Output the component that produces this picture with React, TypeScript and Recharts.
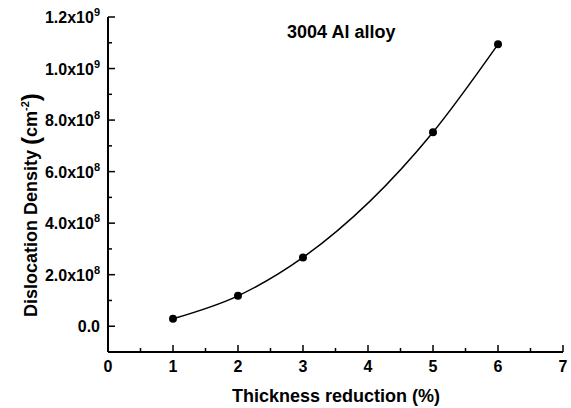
import React from "react";
import { LineChart, Line, XAxis, YAxis } from "recharts";

const thickness = [1, 2, 3, 5, 6];
const density = [0.29e8, 1.18e8, 2.67e8, 7.53e8, 10.94e8];
const xTicks = [0, 0.5, 1, 1.5, 2, 2.5, 3, 3.5, 4, 4.5, 5, 5.5, 6, 6.5, 7];
const yTicks = [0, 1e8, 2e8, 3e8, 4e8, 5e8, 6e8, 7e8, 8e8, 9e8, 10e8, 11e8, 12e8];

const data = thickness.map((x, i) => ({ x, y: density[i] }));

const FONT = "Liberation Sans, Arial, sans-serif";

const XTick = (props: any) => {
  const { x, y, payload } = props;
  const major = Number.isInteger(payload.value);
  return (
    <g>
      <line x1={x} x2={x} y1={y} y2={y - (major ? 7 : 4)} stroke="#000" strokeWidth={1.5} />
      {major && (
        <text x={x} y={y + 20} textAnchor="middle" fontFamily={FONT} fontWeight="bold" fontSize={16} fill="#000">
          {payload.value}
        </text>
      )}
    </g>
  );
};

const YTick = (props: any) => {
  const { x, y, payload } = props;
  const v = payload.value;
  const major = Math.round(v / 1e8) % 2 === 0;
  let label: React.ReactNode = null;
  if (major) {
    if (v === 0) {
      label = "0.0";
    } else {
      const exp = Math.floor(Math.log10(v) + 1e-9);
      const mant = (v / Math.pow(10, exp)).toFixed(1);
      label = (
        <>
          {mant}x10<tspan dy={-7} fontSize={11}>{exp}</tspan>
        </>
      );
    }
  }
  return (
    <g>
      <line x1={x} x2={x + (major ? 7 : 4)} y1={y} y2={y} stroke="#000" strokeWidth={1.5} />
      {major && (
        <text x={x - 8} y={y + 6} textAnchor="end" fontFamily={FONT} fontWeight="bold" fontSize={16} fill="#000">
          {label}
        </text>
      )}
    </g>
  );
};

export default function App() {
  return (
    <div style={{ position: "absolute", left: 0, top: 0 }}>
      <style>{`body{margin:0}`}</style>
      <LineChart width={571} height={408} data={data} margin={{ top: 17, right: 8, bottom: 0, left: 0 }}>
        <XAxis
          dataKey="x"
          type="number"
          domain={[0, 7]}
          ticks={xTicks}
          interval={0}
          height={56}
          tickSize={0}
          tickMargin={0}
          tick={<XTick />}
          axisLine={{ stroke: "#000", strokeWidth: 2 }}
          label={{
            content: () => (
              <g>
                <text x={336} y={402} textAnchor="middle" fontFamily={FONT} fontWeight="bold" fontSize={18} fill="#000">
                  Thickness reduction (%)
                </text>
                <text x={287} y={38} fontFamily={FONT} fontWeight="bold" fontSize={18} fill="#000">
                  3004 Al alloy
                </text>
              </g>
            ),
          }}
        />
        <XAxis
          xAxisId="top"
          orientation="top"
          dataKey="x"
          type="number"
          domain={[0, 7]}
          height={0}
          tick={false}
          tickLine={false}
          axisLine={{ stroke: "#808080", strokeWidth: 1.5 }}
        />
        <YAxis
          type="number"
          domain={[-1e8, 1.2e9]}
          ticks={yTicks}
          interval={0}
          width={108}
          tickSize={0}
          tickMargin={0}
          tick={<YTick />}
          axisLine={{ stroke: "#000", strokeWidth: 2 }}
          label={{
            content: () => (
              <text
                transform="translate(37,317) rotate(-90)"
                fontFamily={FONT}
                fontWeight="bold"
                fontSize={18}
                fill="#000"
              >
                Dislocation Density <tspan fontSize={24} dy={2}>(</tspan>
                <tspan dy={-2}>cm</tspan>
                <tspan fontSize={11} dy={-8}>-2</tspan>
                <tspan fontSize={24} dy={10}>)</tspan>
              </text>
            ),
          }}
        />
        <YAxis
          yAxisId="right"
          orientation="right"
          type="number"
          domain={[-1e8, 1.2e9]}
          width={0}
          tick={false}
          tickLine={false}
          axisLine={{ stroke: "#808080", strokeWidth: 1.5 }}
        />
        <Line
          dataKey="y"
          type="monotone"
          stroke="#000"
          strokeWidth={1.5}
          dot={{ r: 4, fill: "#000", stroke: "#000", strokeWidth: 0 }}
          isAnimationActive={false}
        />
      </LineChart>
    </div>
  );
}
